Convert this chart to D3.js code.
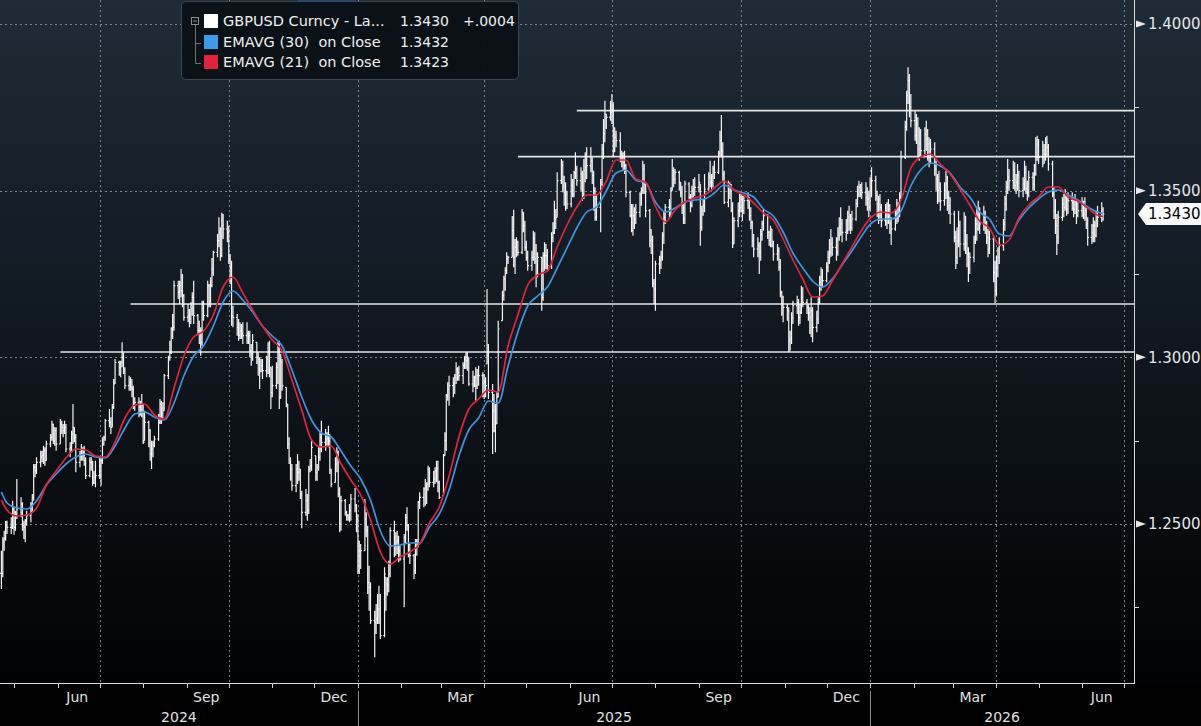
<!DOCTYPE html>
<html><head><meta charset="utf-8">
<script src="https://cdn.jsdelivr.net/npm/d3@7"></script>
<style>html,body{margin:0;padding:0;background:#000;overflow:hidden}svg{display:block}</style>
</head><body>
<svg id="c" width="1201" height="726"></svg>
<script>
// ---- daily GBPUSD bars (one line = one trading week, Apr 22 2024 .. Jun 16 2026)
const close = [
1.2352,1.2446,1.2456,1.2496,1.2490, 1.2490,1.2545,1.2490,1.2530,1.2545,
1.2560,1.2495,1.2490,1.2510,1.2525, 1.2555,1.2580,1.2670,1.2660,1.2685,
1.2700,1.2705,1.2720,1.2690,1.2740, 1.2760,1.2800,1.2750,1.2780,1.2740,
1.2800,1.2790,1.2780,1.2790,1.2725, 1.2730,1.2770,1.2790,1.2760,1.2685,
1.2705,1.2710,1.2715,1.2690,1.2645, 1.2685,1.2685,1.2625,1.2640,1.2645,
1.2650,1.2690,1.2740,1.2760,1.2810, 1.2805,1.2790,1.2850,1.2920,1.2985,
1.2970,1.2985,1.3000,1.2965,1.2915, 1.2925,1.2910,1.2905,1.2860,1.2865,
1.2850,1.2835,1.2855,1.2745,1.2805, 1.2780,1.2710,1.2725,1.2735,1.2755,
1.2805,1.2860,1.2830,1.2840,1.2945, 1.3000,1.3015,1.3085,1.3090,1.3215,
1.3195,1.3215,1.3200,1.3185,1.3120, 1.3125,1.3115,1.3145,1.3180,1.3125,
1.3080,1.3080,1.3045,1.3160,1.3125, 1.3215,1.3160,1.3215,1.3265,1.3315,
1.3350,1.3375,1.3305,1.3395,1.3385, 1.3375,1.3295,1.3270,1.3125,1.3120,
1.3090,1.3065,1.3080,1.3070,1.3065, 1.3070,1.3065,1.3020,1.3010,1.3050,
1.3000,1.2995,1.2960,1.2975,1.2960, 1.2995,1.3015,1.2970,1.2895,1.2915,
1.2970,1.3025,1.2880,1.2985,1.2915, 1.2860,1.2740,1.2695,1.2665,1.2615,
1.2665,1.2655,1.2665,1.2590,1.2535, 1.2570,1.2540,1.2665,1.2675,1.2730,
1.2655,1.2670,1.2700,1.2760,1.2745, 1.2765,1.2755,1.2750,1.2665,1.2620,
1.2680,1.2715,1.2590,1.2500,1.2570, 1.2535,1.2525,1.2520,1.2540,1.2575,
1.2555,1.2515,1.2375,1.2420,1.2420, 1.2515,1.2480,1.2325,1.2310,1.2210,
1.2205,1.2215,1.2245,1.2245,1.2165, 1.2350,1.2320,1.2315,1.2350,1.2480,
1.2440,1.2445,1.2450,1.2420,1.2395, 1.2460,1.2520,1.2495,1.2440,1.2405,
1.2360,1.2450,1.2445,1.2565,1.2580, 1.2605,1.2615,1.2620,1.2665,1.2625,
1.2635,1.2660,1.2665,1.2625,1.2580, 1.2705,1.2750,1.2885,1.2905,1.2915,
1.2920,1.2940,1.2965,1.2955,1.2945, 1.2975,1.2995,1.2990,1.3000,1.2920,
1.2915,1.2940,1.2915,1.2945,1.2945, 1.2920,1.2925,1.2915,1.3005,1.2895,
1.2840,1.2780,1.2800,1.2880,1.3085, 1.3185,1.3235,1.3260,1.3295,1.3300,
1.3380,1.3300,1.3330,1.3345,1.3315, 1.3435,1.3395,1.3330,1.3300,1.3275,
1.3300,1.3355,1.3295,1.3250,1.3300, 1.3180,1.3305,1.3305,1.3305,1.3275,
1.3360,1.3375,1.3415,1.3420,1.3530, 1.3575,1.3515,1.3495,1.3490,1.3460,
1.3515,1.3490,1.3555,1.3565,1.3530, 1.3550,1.3490,1.3560,1.3570,1.3575,
1.3590,1.3545,1.3500,1.3420,1.3450, 1.3520,1.3625,1.3670,1.3730,1.3720,
1.3735,1.3745,1.3620,1.3660,1.3650, 1.3610,1.3600,1.3590,1.3575,1.3495,
1.3425,1.3380,1.3425,1.3415,1.3435, 1.3490,1.3500,1.3565,1.3520,1.3440,
1.3350,1.3355,1.3220,1.3205,1.3280, 1.3290,1.3300,1.3365,1.3420,1.3450,
1.3425,1.3500,1.3560,1.3535,1.3555, 1.3525,1.3495,1.3455,1.3415,1.3520,
1.3480,1.3455,1.3500,1.3505,1.3510, 1.3525,1.3390,1.3440,1.3455,1.3505,
1.3540,1.3525,1.3525,1.3565,1.3555, 1.3610,1.3650,1.3620,1.3550,1.3465,
1.3515,1.3505,1.3440,1.3340,1.3410, 1.3440,1.3450,1.3475,1.3440,1.3470,
1.3475,1.3425,1.3405,1.3350,1.3325, 1.3335,1.3315,1.3370,1.3400,1.3425,
1.3375,1.3350,1.3385,1.3335,1.3310, 1.3320,1.3270,1.3195,1.3160,1.3150,
1.3140,1.3050,1.3055,1.3120,1.3155, 1.3165,1.3120,1.3135,1.3180,1.3165,
1.3150,1.3135,1.3120,1.3140,1.3090, 1.3115,1.3165,1.3225,1.3240,1.3230,
1.3270,1.3300,1.3315,1.3340,1.3330, 1.3315,1.3365,1.3390,1.3400,1.3375,
1.3380,1.3420,1.3410,1.3390,1.3415, 1.3460,1.3490,1.3510,1.3500,1.3495,
1.3480,1.3475,1.3450,1.3500,1.3530, 1.3485,1.3460,1.3435,1.3450,1.3410,
1.3440,1.3415,1.3455,1.3400,1.3385, 1.3430,1.3450,1.3425,1.3480,1.3600,
1.3690,1.3785,1.3830,1.3750,1.3710, 1.3665,1.3700,1.3625,1.3640,1.3620,
1.3670,1.3655,1.3640,1.3600,1.3625, 1.3565,1.3535,1.3500,1.3510,1.3470,
1.3500,1.3520,1.3480,1.3455,1.3430, 1.3360,1.3300,1.3350,1.3395,1.3340,
1.3380,1.3340,1.3310,1.3265,1.3300, 1.3355,1.3400,1.3385,1.3440,1.3400,
1.3420,1.3395,1.3360,1.3325,1.3355, 1.3255,1.3200,1.3270,1.3300,1.3335,
1.3400,1.3460,1.3510,1.3540,1.3530, 1.3560,1.3515,1.3525,1.3545,1.3500,
1.3520,1.3555,1.3505,1.3495,1.3540, 1.3520,1.3550,1.3600,1.3640,1.3600,
1.3620,1.3610,1.3645,1.3630,1.3580, 1.3490,1.3440,1.3395,1.3360,1.3420,
1.3460,1.3450,1.3480,1.3445,1.3470, 1.3465,1.3445,1.3460,1.3425,1.3440,
1.3455,1.3430,1.3440,1.3400,1.3360, 1.3375,1.3395,1.3365,1.3410,1.3420,
1.3426,1.3430
];
const high = [
1.2420,1.2460,1.2480,1.2509,1.2510, 1.2520,1.2570,1.2550,1.2540,1.2635,
1.2580,1.2565,1.2510,1.2515,1.2540, 1.2565,1.2590,1.2680,1.2680,1.2700,
1.2720,1.2720,1.2735,1.2730,1.2750, 1.2770,1.2810,1.2800,1.2790,1.2790,
1.2815,1.2810,1.2800,1.2810,1.2800, 1.2745,1.2780,1.2860,1.2790,1.2770,
1.2720,1.2740,1.2730,1.2735,1.2700, 1.2700,1.2700,1.2690,1.2660,1.2690,
1.2700,1.2700,1.2760,1.2765,1.2815, 1.2845,1.2820,1.2860,1.2935,1.2995,
1.2990,1.2990,1.3045,1.3015,1.2970, 1.2945,1.2940,1.2935,1.2915,1.2880,
1.2880,1.2870,1.2890,1.2860,1.2840, 1.2810,1.2785,1.2750,1.2750,1.2765,
1.2830,1.2875,1.2870,1.2865,1.2950, 1.3005,1.3050,1.3090,1.3130,1.3230,
1.3230,1.3230,1.3265,1.3250,1.3190, 1.3160,1.3145,1.3165,1.3195,1.3230,
1.3130,1.3110,1.3090,1.3170,1.3170, 1.3230,1.3220,1.3240,1.3298,1.3320,
1.3370,1.3420,1.3390,1.3434,1.3430, 1.3410,1.3395,1.3310,1.3290,1.3155,
1.3130,1.3115,1.3105,1.3100,1.3105, 1.3105,1.3080,1.3080,1.3040,1.3070,
1.3045,1.3015,1.3000,1.2995,1.2995, 1.3005,1.3045,1.3050,1.2970,1.2975,
1.2985,1.3045,1.3050,1.3010,1.2995, 1.2910,1.2860,1.2760,1.2700,1.2680,
1.2680,1.2710,1.2690,1.2665,1.2600, 1.2605,1.2590,1.2675,1.2695,1.2750,
1.2705,1.2680,1.2730,1.2775,1.2810, 1.2785,1.2775,1.2795,1.2770,1.2665,
1.2700,1.2730,1.2720,1.2610,1.2585, 1.2575,1.2540,1.2530,1.2560,1.2590,
1.2608,1.2560,1.2530,1.2450,1.2440, 1.2575,1.2535,1.2495,1.2375,1.2325,
1.2240,1.2260,1.2290,1.2315,1.2290, 1.2370,1.2340,1.2340,1.2390,1.2490,
1.2510,1.2475,1.2480,1.2465,1.2435, 1.2470,1.2530,1.2550,1.2500,1.2440,
1.2410,1.2455,1.2455,1.2570,1.2595, 1.2610,1.2635,1.2625,1.2675,1.2670,
1.2660,1.2670,1.2690,1.2690,1.2630, 1.2710,1.2775,1.2890,1.2925,1.2945,
1.2940,1.2950,1.2985,1.2970,1.2975, 1.2985,1.3005,1.3015,1.3016,1.3000,
1.2960,1.2945,1.2970,1.2965,1.2975, 1.2955,1.2950,1.2940,1.3205,1.3040,
1.2920,1.2890,1.2860,1.2895,1.3110, 1.3200,1.3245,1.3270,1.3315,1.3305,
1.3424,1.3443,1.3355,1.3360,1.3350, 1.3445,1.3435,1.3410,1.3350,1.3320,
1.3320,1.3380,1.3375,1.3340,1.3315, 1.3300,1.3315,1.3345,1.3340,1.3325,
1.3375,1.3405,1.3470,1.3445,1.3555, 1.3595,1.3590,1.3545,1.3525,1.3500,
1.3550,1.3535,1.3560,1.3615,1.3575, 1.3570,1.3560,1.3595,1.3615,1.3630,
1.3630,1.3600,1.3560,1.3510,1.3490, 1.3535,1.3640,1.3715,1.3770,1.3730,
1.3770,1.3790,1.3765,1.3690,1.3680, 1.3675,1.3620,1.3615,1.3620,1.3580,
1.3500,1.3460,1.3460,1.3450,1.3460, 1.3495,1.3510,1.3590,1.3580,1.3520,
1.3445,1.3385,1.3365,1.3235,1.3290, 1.3305,1.3320,1.3375,1.3440,1.3460,
1.3475,1.3510,1.3595,1.3570,1.3565, 1.3560,1.3525,1.3515,1.3460,1.3530,
1.3525,1.3490,1.3515,1.3535,1.3540, 1.3550,1.3520,1.3455,1.3475,1.3550,
1.3555,1.3590,1.3550,1.3575,1.3590, 1.3620,1.3680,1.3727,1.3645,1.3560,
1.3530,1.3525,1.3520,1.3465,1.3420, 1.3465,1.3490,1.3490,1.3485,1.3485,
1.3495,1.3480,1.3450,1.3410,1.3370, 1.3360,1.3345,1.3385,1.3410,1.3445,
1.3430,1.3380,1.3395,1.3385,1.3350, 1.3340,1.3330,1.3295,1.3200,1.3185,
1.3160,1.3150,1.3080,1.3135,1.3170, 1.3185,1.3175,1.3160,1.3215,1.3210,
1.3175,1.3160,1.3150,1.3180,1.3150, 1.3140,1.3180,1.3245,1.3270,1.3265,
1.3285,1.3320,1.3355,1.3385,1.3360, 1.3360,1.3390,1.3420,1.3450,1.3415,
1.3415,1.3440,1.3455,1.3430,1.3440, 1.3475,1.3515,1.3530,1.3520,1.3525,
1.3525,1.3510,1.3500,1.3540,1.3570, 1.3545,1.3500,1.3485,1.3490,1.3460,
1.3460,1.3465,1.3475,1.3460,1.3420, 1.3445,1.3475,1.3465,1.3495,1.3620,
1.3710,1.3800,1.3870,1.3850,1.3790, 1.3740,1.3730,1.3720,1.3690,1.3685,
1.3690,1.3710,1.3685,1.3660,1.3655, 1.3645,1.3590,1.3550,1.3560,1.3525,
1.3525,1.3560,1.3545,1.3500,1.3480, 1.3440,1.3380,1.3390,1.3440,1.3410,
1.3435,1.3425,1.3370,1.3330,1.3315, 1.3365,1.3420,1.3445,1.3470,1.3450,
1.3455,1.3440,1.3410,1.3385,1.3380, 1.3365,1.3290,1.3305,1.3330,1.3360,
1.3415,1.3485,1.3530,1.3595,1.3565, 1.3590,1.3585,1.3550,1.3580,1.3560,
1.3540,1.3590,1.3575,1.3530,1.3560, 1.3555,1.3580,1.3660,1.3665,1.3655,
1.3650,1.3640,1.3660,1.3665,1.3640, 1.3590,1.3510,1.3475,1.3430,1.3440,
1.3480,1.3490,1.3505,1.3490,1.3495, 1.3495,1.3480,1.3490,1.3470,1.3465,
1.3480,1.3470,1.3480,1.3450,1.3420, 1.3400,1.3420,1.3410,1.3440,1.3455,
1.3465,1.3450
];
const low = [
1.2305,1.2340,1.2420,1.2450,1.2470, 1.2470,1.2485,1.2468,1.2480,1.2515,
1.2520,1.2480,1.2455,1.2445,1.2495, 1.2505,1.2535,1.2570,1.2640,1.2650,
1.2670,1.2685,1.2680,1.2675,1.2690, 1.2730,1.2750,1.2740,1.2735,1.2720,
1.2740,1.2770,1.2760,1.2770,1.2715, 1.2700,1.2715,1.2740,1.2745,1.2655,
1.2670,1.2690,1.2690,1.2675,1.2635, 1.2640,1.2660,1.2615,1.2620,1.2610,
1.2635,1.2615,1.2680,1.2735,1.2750, 1.2790,1.2770,1.2790,1.2845,1.2920,
1.2945,1.2940,1.2970,1.2950,1.2905, 1.2900,1.2900,1.2880,1.2845,1.2840,
1.2820,1.2825,1.2820,1.2740,1.2750, 1.2730,1.2690,1.2665,1.2700,1.2730,
1.2750,1.2800,1.2800,1.2815,1.2840, 1.2935,1.2990,1.3010,1.3055,1.3080,
1.3175,1.3160,1.3180,1.3150,1.3110, 1.3105,1.3090,1.3100,1.3125,1.3100,
1.3070,1.3040,1.3005,1.3035,1.3110, 1.3120,1.3150,1.3150,1.3210,1.3245,
1.3300,1.3330,1.3290,1.3300,1.3355, 1.3345,1.3280,1.3220,1.3095,1.3090,
1.3065,1.3050,1.3055,1.3055,1.3040, 1.3040,1.3040,1.3000,1.2975,1.2990,
1.2980,1.2945,1.2905,1.2955,1.2935, 1.2940,1.2950,1.2940,1.2845,1.2880,
1.2905,1.2920,1.2845,1.2875,1.2900, 1.2850,1.2725,1.2680,1.2630,1.2600,
1.2595,1.2620,1.2630,1.2575,1.2487, 1.2525,1.2510,1.2530,1.2655,1.2660,
1.2630,1.2630,1.2660,1.2690,1.2715, 1.2720,1.2735,1.2730,1.2650,1.2610,
1.2625,1.2655,1.2580,1.2475,1.2480, 1.2525,1.2510,1.2510,1.2505,1.2510,
1.2535,1.2475,1.2350,1.2350,1.2365, 1.2420,1.2460,1.2290,1.2240,1.2200,
1.2100,1.2170,1.2200,1.2200,1.2155, 1.2160,1.2240,1.2285,1.2295,1.2340,
1.2400,1.2405,1.2410,1.2385,1.2390, 1.2250,1.2440,1.2480,1.2400,1.2380,
1.2335,1.2350,1.2405,1.2430,1.2545, 1.2550,1.2555,1.2560,1.2600,1.2610,
1.2610,1.2620,1.2625,1.2595,1.2575, 1.2585,1.2705,1.2720,1.2870,1.2855,
1.2880,1.2890,1.2920,1.2930,1.2930, 1.2920,1.2965,1.2965,1.2960,1.2915,
1.2895,1.2910,1.2870,1.2905,1.2915, 1.2880,1.2875,1.2880,1.2980,1.2875,
1.2710,1.2775,1.2715,1.2800,1.2880, 1.3110,1.3170,1.3200,1.3250,1.3280,
1.3300,1.3270,1.3250,1.3300,1.3305, 1.3310,1.3375,1.3320,1.3290,1.3260,
1.3260,1.3290,1.3280,1.3210,1.3240, 1.3140,1.3170,1.3260,1.3265,1.3260,
1.3265,1.3345,1.3370,1.3385,1.3420, 1.3520,1.3495,1.3455,1.3440,1.3445,
1.3450,1.3480,1.3480,1.3535,1.3515, 1.3500,1.3470,1.3475,1.3525,1.3535,
1.3555,1.3520,1.3440,1.3410,1.3410, 1.3375,1.3515,1.3595,1.3645,1.3685,
1.3710,1.3700,1.3600,1.3615,1.3630, 1.3585,1.3570,1.3560,1.3550,1.3480,
1.3420,1.3375,1.3365,1.3385,1.3400, 1.3420,1.3455,1.3490,1.3490,1.3420,
1.3330,1.3310,1.3210,1.3160,1.3140, 1.3250,1.3265,1.3290,1.3340,1.3400,
1.3415,1.3420,1.3500,1.3510,1.3520, 1.3500,1.3480,1.3430,1.3400,1.3400,
1.3475,1.3435,1.3450,1.3480,1.3485, 1.3495,1.3335,1.3380,1.3425,1.3435,
1.3500,1.3510,1.3500,1.3510,1.3535, 1.3550,1.3600,1.3600,1.3530,1.3460,
1.3450,1.3475,1.3435,1.3328,1.3340, 1.3390,1.3420,1.3435,1.3410,1.3430,
1.3445,1.3410,1.3385,1.3330,1.3300, 1.3300,1.3250,1.3290,1.3350,1.3380,
1.3355,1.3335,1.3330,1.3330,1.3290, 1.3290,1.3260,1.3180,1.3125,1.3105,
1.3110,1.3016,1.3020,1.3040,1.3100, 1.3130,1.3095,1.3100,1.3130,1.3150,
1.3130,1.3110,1.3070,1.3060,1.3045, 1.3075,1.3100,1.3160,1.3200,1.3210,
1.3225,1.3255,1.3280,1.3300,1.3305, 1.3290,1.3305,1.3350,1.3365,1.3345,
1.3350,1.3370,1.3380,1.3370,1.3380, 1.3410,1.3450,1.3480,1.3480,1.3475,
1.3455,1.3440,1.3420,1.3440,1.3480, 1.3470,1.3420,1.3400,1.3410,1.3390,
1.3395,1.3385,1.3400,1.3370,1.3337, 1.3380,1.3400,1.3405,1.3420,1.3475,
1.3595,1.3680,1.3760,1.3720,1.3690, 1.3650,1.3640,1.3600,1.3590,1.3600,
1.3610,1.3620,1.3590,1.3570,1.3580, 1.3545,1.3500,1.3460,1.3465,1.3440,
1.3455,1.3475,1.3440,1.3430,1.3400, 1.3345,1.3265,1.3280,1.3330,1.3300,
1.3320,1.3310,1.3270,1.3226,1.3250, 1.3285,1.3340,1.3350,1.3380,1.3370,
1.3380,1.3370,1.3340,1.3300,1.3310, 1.3225,1.3163,1.3185,1.3240,1.3280,
1.3320,1.3380,1.3440,1.3490,1.3500, 1.3505,1.3500,1.3490,1.3500,1.3480,
1.3480,1.3500,1.3490,1.3470,1.3480, 1.3500,1.3500,1.3545,1.3590,1.3580,
1.3570,1.3580,1.3590,1.3600,1.3560, 1.3480,1.3415,1.3370,1.3307,1.3340,
1.3410,1.3420,1.3440,1.3425,1.3430, 1.3440,1.3420,1.3430,1.3400,1.3420,
1.3420,1.3415,1.3410,1.3385,1.3335, 1.3340,1.3345,1.3345,1.3360,1.3390,
1.3405,1.3410
];
// ---- moving averages (first day, every Friday, last day)
const ema30 = [1.2596,
1.2563,1.2548,1.2545,1.2569,1.2617,1.2650,1.2680,1.2701,1.2710,1.2701,
1.2698,1.2734,1.2788,1.2830,1.2836,1.2821,1.2812,1.2863,1.2944,1.3004,
1.3034,1.3094,1.3166,1.3199,1.3172,1.3136,1.3094,1.3064,1.3034,1.2962,
1.2881,1.2812,1.2773,1.2761,1.2719,1.2674,1.2635,1.2572,1.2479,1.2434,
1.2437,1.2443,1.2443,1.2491,1.2530,1.2602,1.2704,1.2782,1.2818,1.2869,
1.2863,1.2974,1.3076,1.3154,1.3184,1.3211,1.3268,1.3328,1.3388,1.3436,
1.3451,1.3499,1.3553,1.3562,1.3532,1.3523,1.3466,1.3436,1.3448,1.3466,
1.3472,1.3475,1.3493,1.3517,1.3502,1.3493,1.3481,1.3445,1.3424,1.3376,
1.3313,1.3268,1.3229,1.3211,1.3235,1.3277,1.3319,1.3364,1.3403,1.3415,
1.3415,1.3439,1.3514,1.3562,1.3583,1.3574,1.3553,1.3511,1.3481,1.3436,
1.3415,1.3370,1.3364,1.3412,1.3448,1.3475,1.3496,1.3502,1.3487,1.3472,
1.3451,1.3436,1.3432];
const ema21 = [1.2572,
1.2542,1.2524,1.2527,1.2548,1.2617,1.2659,1.2698,1.2725,1.2722,1.2704,
1.2701,1.2746,1.2818,1.2857,1.2860,1.2827,1.2815,1.2908,1.3004,1.3061,
1.3079,1.3127,1.3211,1.3241,1.3193,1.3142,1.3094,1.3052,1.3019,1.2932,
1.2842,1.2752,1.2731,1.2734,1.2680,1.2632,1.2587,1.2512,1.2416,1.2380,
1.2401,1.2416,1.2440,1.2503,1.2551,1.2644,1.2761,1.2845,1.2875,1.2902,
1.2896,1.3034,1.3127,1.3217,1.3247,1.3259,1.3331,1.3397,1.3451,1.3487,
1.3487,1.3529,1.3592,1.3592,1.3535,1.3526,1.3454,1.3406,1.3442,1.3466,
1.3478,1.3487,1.3508,1.3529,1.3502,1.3487,1.3463,1.3433,1.3412,1.3355,
1.3292,1.3235,1.3181,1.3184,1.3229,1.3280,1.3331,1.3382,1.3421,1.3436,
1.3433,1.3472,1.3568,1.3601,1.3610,1.3580,1.3550,1.3505,1.3457,1.3409,
1.3388,1.3337,1.3352,1.3418,1.3457,1.3481,1.3511,1.3511,1.3481,1.3469,
1.3448,1.3427,1.3423];
// ---- horizontal support / resistance lines
const levelValues = [1.3740, 1.3602, 1.3160, 1.3016];
const levelStarts = ["2025-06-06", "2025-04-25", "2024-07-23", "2024-06-03"];
// ---- axis labels
const yTicks = [1.25, 1.30, 1.35, 1.40];
const yMinorTicks = [1.225, 1.275, 1.325, 1.375];
const monthLabels = ["Jun","Sep","Dec","Mar","Jun","Sep","Dec","Mar","Jun"];
const monthLabelDates = ["2024-06-15","2024-09-15","2024-12-15","2025-03-15","2025-06-15","2025-09-15","2025-12-15","2026-03-15","2026-06-15"];
const yearLabels = ["2024","2025","2026"];
const legendNames = ["GBPUSD Curncy - La...", "EMAVG (30)  on Close", "EMAVG (21)  on Close"];
const legendValues = ["1.3430", "1.3432", "1.3423"];
const legendChange = "+.0004";
const lastPrice = "1.3430";

const W = 1201, H = 726, PR = 1134, PB = 683;
const FONT = "DejaVu Sans, sans-serif";
const svg = d3.select("#c");
const parse = d3.utcParse("%Y-%m-%d");

const dates = d3.utcDay.range(new Date(Date.UTC(2024,3,22)), new Date(Date.UTC(2026,5,17)))
  .filter(d => d.getUTCDay() !== 0 && d.getUTCDay() !== 6);
const x = d3.scaleUtc().domain([new Date(Date.UTC(2024,3,21)), new Date(Date.UTC(2026,6,8))]).range([0, PR]);
const y = d3.scaleLinear().domain([1.25, 1.40]).range([524, 24]);

const defs = svg.append("defs");
const g1 = defs.append("linearGradient").attr("id","bg").attr("x1",0).attr("y1",0).attr("x2",0).attr("y2",PB).attr("gradientUnits","userSpaceOnUse");
g1.append("stop").attr("offset",0).attr("stop-color","#1f2b37");
g1.append("stop").attr("offset",0.5).attr("stop-color","#10171e");
g1.append("stop").attr("offset",1).attr("stop-color","#010203");
defs.append("clipPath").attr("id","plot").append("rect").attr("x",0).attr("y",0).attr("width",PR).attr("height",PB);

svg.append("rect").attr("width",W).attr("height",H).attr("fill","#000");
svg.append("rect").attr("width",W).attr("height",PB).attr("fill","url(#bg)");

// grid
const grid = svg.append("g").attr("stroke","#7d848c").attr("stroke-dasharray","2,3").attr("stroke-width",1);
grid.selectAll("line.h").data(yTicks).join("line").attr("class","h")
  .attr("x1",0).attr("x2",PR).attr("y1",d=>Math.round(y(d))+0.5).attr("y2",d=>Math.round(y(d))+0.5);
const quarters = d3.utcMonth.range(new Date(Date.UTC(2024,6,1)), new Date(Date.UTC(2026,6,2)), 3);
grid.selectAll("line.v").data(quarters).join("line").attr("class","v")
  .attr("y1",0).attr("y2",PB).attr("x1",d=>Math.round(x(d))+0.5).attr("x2",d=>Math.round(x(d))+0.5);

const plot = svg.append("g").attr("clip-path","url(#plot)");

// levels
plot.selectAll("line.lvl").data(levelValues).join("line").attr("class","lvl")
  .attr("x1",(d,i)=>x(parse(levelStarts[i]))).attr("x2",PR)
  .attr("y1",d=>y(d)).attr("y2",d=>y(d))
  .attr("stroke","#e4e4e4").attr("stroke-width",1.6);

// bars: high-low line, open tick (previous close) left, close tick right
let p = "";
dates.forEach((d,i) => {
  const X = x(d);
  const yh = y(high[i]), yl = y(low[i]);
  const yo = i > 0 ? Math.min(yl, Math.max(yh, y(close[i-1]))) : y(close[i]);
  p += `M${X.toFixed(2)},${yh.toFixed(2)}V${yl.toFixed(2)}`
     + `M${(X-1.3).toFixed(2)},${yo.toFixed(2)}H${X.toFixed(2)}`
     + `M${X.toFixed(2)},${y(close[i]).toFixed(2)}H${(X+1.3).toFixed(2)}`;
});
plot.append("path").attr("d",p).attr("fill","none").attr("stroke","#f4f4f4").attr("stroke-width",1.2);

// EMAs
const emaIdx = [0, ...d3.range(112).map(k => k*5+4), dates.length-1];
const line = d3.line().x(i => x(dates[i])).curve(d3.curveMonotoneX);
plot.append("path").attr("d", line.y((i,j) => y(ema30[j]))(emaIdx)).attr("fill","none").attr("stroke","#3d95e3").attr("stroke-width",1.7);
plot.append("path").attr("d", line.y((i,j) => y(ema21[j]))(emaIdx)).attr("fill","none").attr("stroke","#e3233d").attr("stroke-width",1.7);

// right axis
const ax = svg.append("g").attr("font-family",FONT);
ax.append("line").attr("x1",PR+0.5).attr("x2",PR+0.5).attr("y1",0).attr("y2",PB).attr("stroke","#d8d8d8");
ax.selectAll("path.tri").data(yTicks).join("path").attr("class","tri")
  .attr("d",d=>`M${PR+2},${y(d)-3.5}L${PR+12},${y(d)}L${PR+2},${y(d)+3.5}Z`).attr("fill","#e8e8e8");
ax.selectAll("line.mn").data(yMinorTicks).join("line").attr("class","mn")
  .attr("x1",PR).attr("x2",PR+5).attr("y1",d=>Math.round(y(d))+0.5).attr("y2",d=>Math.round(y(d))+0.5).attr("stroke","#d8d8d8");
ax.selectAll("text.yl").data(yTicks).join("text").attr("class","yl")
  .attr("x",PR+14).attr("y",d=>y(d)).attr("dy","0.36em").attr("font-size",15).attr("fill","#e6e6e6")
  .text(d=>d3.format(".4f")(d));
// last price marker
const ly = y(close[close.length-1]);
ax.append("path").attr("d",`M${PR+4},${ly}L${PR+12},${ly-11}H${W}V${ly+11}H${PR+12}Z`).attr("fill","#fafafa");
ax.append("text").attr("x",PR+14).attr("y",ly).attr("dy","0.36em").attr("font-size",15).attr("fill","#000").text(lastPrice);

// bottom axis
const bx = svg.append("g").attr("font-family",FONT);
bx.append("line").attr("x1",0).attr("x2",PR+1).attr("y1",PB+0.5).attr("y2",PB+0.5).attr("stroke","#d8d8d8");
const months = d3.utcMonth.range(new Date(Date.UTC(2024,4,1)), new Date(Date.UTC(2026,6,2)));
bx.selectAll("line.mt").data(months).join("line").attr("class","mt")
  .attr("x1",d=>Math.round(x(d))+0.5).attr("x2",d=>Math.round(x(d))+0.5).attr("y1",PB).attr("y2",PB+5).attr("stroke","#d0d0d0");
bx.selectAll("text.ml").data(monthLabels).join("text").attr("class","ml")
  .attr("x",(d,i)=>x(parse(monthLabelDates[i]))).attr("y",702).attr("text-anchor","middle")
  .attr("font-size",14).attr("fill","#e0e0e0").text(d=>d);
const yearBounds = [0, x(new Date(Date.UTC(2025,0,1))), x(new Date(Date.UTC(2026,0,1))), PR];
bx.selectAll("line.ys").data(yearBounds.slice(1,3)).join("line").attr("class","ys")
  .attr("x1",d=>Math.round(d)+0.5).attr("x2",d=>Math.round(d)+0.5).attr("y1",691).attr("y2",H).attr("stroke","#8a8a8a");
bx.selectAll("text.yr").data(yearLabels).join("text").attr("class","yr")
  .attr("x",(d,i)=>(yearBounds[i]+yearBounds[i+1])/2).attr("y",722).attr("text-anchor","middle")
  .attr("font-size",14).attr("fill","#e0e0e0").text(d=>d);

// top blue strip
svg.append("rect").attr("x",297).attr("y",0).attr("width",59).attr("height",2).attr("fill","#1d3f94");

// legend
const lg = svg.append("g").attr("font-family",FONT);
lg.append("rect").attr("x",181.5).attr("y",1.5).attr("width",337).attr("height",78).attr("rx",4)
  .attr("fill","#0b1116").attr("fill-opacity",0.95).attr("stroke","#3f464d");
lg.append("rect").attr("x",191.5).attr("y",17.5).attr("width",7).attr("height",7).attr("fill","none").attr("stroke","#8c8c8c");
lg.append("line").attr("x1",193).attr("x2",197).attr("y1",21).attr("y2",21).attr("stroke","#8c8c8c");
lg.append("path").attr("d","M195.5,25V63.5H201M195.5,43.5H201").attr("fill","none").attr("stroke","#6e6e6e");
const swatch = ["#ffffff","#3d9be9","#e3223e"];
const rowY = [21, 42, 62];
lg.selectAll("rect.sw").data(legendNames).join("rect").attr("class","sw")
  .attr("x",204).attr("y",(d,i)=>rowY[i]-7).attr("width",14).attr("height",14).attr("fill",(d,i)=>swatch[i]);
lg.selectAll("text.ln").data(legendNames).join("text").attr("class","ln")
  .attr("x",223).attr("y",(d,i)=>rowY[i]).attr("dy","0.36em").attr("font-size",14.5).attr("fill","#f0f0f0")
  .attr("xml:space","preserve").style("white-space","pre").text(d=>d);
lg.selectAll("text.lv").data(legendValues).join("text").attr("class","lv")
  .attr("x",400).attr("y",(d,i)=>rowY[i]).attr("dy","0.36em").attr("font-size",14).attr("fill","#f0f0f0").text(d=>d);
lg.append("text").attr("x",463).attr("y",rowY[0]).attr("dy","0.36em").attr("font-size",14).attr("fill","#f0f0f0").text(legendChange);
</script>
</body></html>
